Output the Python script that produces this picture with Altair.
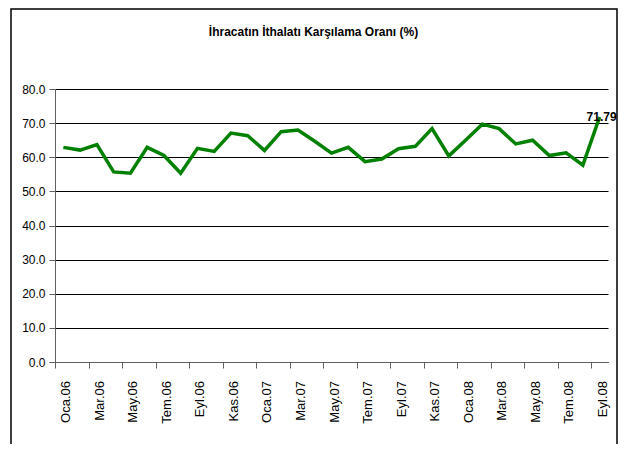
import altair as alt
import pandas as pd

month_names = ["Oca", "Şub", "Mar", "Nis", "May", "Haz", "Tem", "Ağu", "Eyl", "Eki", "Kas", "Ara"]
years = ["06", "07", "08"]
months = [f"{m}.{y}" for y in years for m in month_names][:33]

ratios = [62.9, 62.1, 63.7, 55.7, 55.3, 62.9, 60.5, 55.3, 62.6, 61.7,
          67.1, 66.3, 62.0, 67.5, 68.0, 64.7, 61.2, 62.9, 58.7, 59.5,
          62.5, 63.2, 68.4, 60.4, 65.0, 69.7, 68.4, 63.9, 65.0, 60.5,
          61.3, 57.7, 71.79]

y_ticks = [0, 10, 20, 30, 40, 50, 60, 70, 80]
title_text = "İhracatın İthalatı Karşılama Oranı (%)"

df = pd.DataFrame({"idx": list(range(len(months))), "ay": months, "oran": ratios})
lab_df = df[df["idx"] % 2 == 0]
last_df = df.tail(1)
tick_vals = [i - 0.5 for i in range(0, len(months), 2)]

FONT = "Liberation Sans, Arial, sans-serif"

x_scale = alt.Scale(domain=[-0.5, len(months) - 0.5], nice=False, zero=False)
x_axis = alt.Axis(values=tick_vals, labels=False, grid=False, tickSize=6,
                  tickColor="#606060", domainColor="#606060", title=None)
y_scale = alt.Scale(domain=[0, 80], nice=False)
y_axis = alt.Axis(values=y_ticks, format=".1f", grid=True, gridColor="#000000",
                  gridWidth=1, labelFont=FONT, labelFontSize=12, labelOverlap=False,
                  labelColor="black", tickSize=6, labelPadding=4,
                  tickColor="#606060", domainColor="#606060", title=None)

x_enc = alt.X("idx:Q", scale=x_scale, axis=x_axis)
y_enc = alt.Y("oran:Q", scale=y_scale, axis=y_axis)

frame = alt.Chart(pd.DataFrame({"k": [0]})).mark_rect(
    filled=False, stroke="black", strokeWidth=1.5
).encode(x=alt.value(-44), x2=alt.value(562), y=alt.value(-80), y2=alt.value(370))

line = alt.Chart(df).mark_line(color="#008000", strokeWidth=3.5).encode(x=x_enc, y=y_enc)

xlabels = alt.Chart(lab_df).mark_text(
    angle=270, align="right", baseline="middle", dx=-19, dy=3,
    fontSize=13, font=FONT, color="black"
).encode(x=x_enc, y=alt.Y(datum=0, scale=y_scale, axis=y_axis), text="ay:N")

end_label = alt.Chart(last_df).mark_text(
    align="left", baseline="middle", dx=-13, fontSize=12, fontWeight="bold",
    font=FONT, color="black"
).encode(x=x_enc, y=y_enc, text=alt.Text("oran:Q", format=".2f"))

chart = alt.layer(frame, line, xlabels, end_label).properties(
    width=553, height=273,
    title=alt.Title(title_text, font=FONT, fontSize=12, fontWeight="bold",
                    color="black", anchor="middle", dx=-18, offset=-40,
                    baseline="alphabetic"),
    padding={"left": 47, "top": 81, "right": 10, "bottom": 82},
    autosize=alt.AutoSizeParams(type="none"),
).configure_view(strokeOpacity=0)

chart.save("out.html", embed_options={"renderer": "svg", "actions": False})
